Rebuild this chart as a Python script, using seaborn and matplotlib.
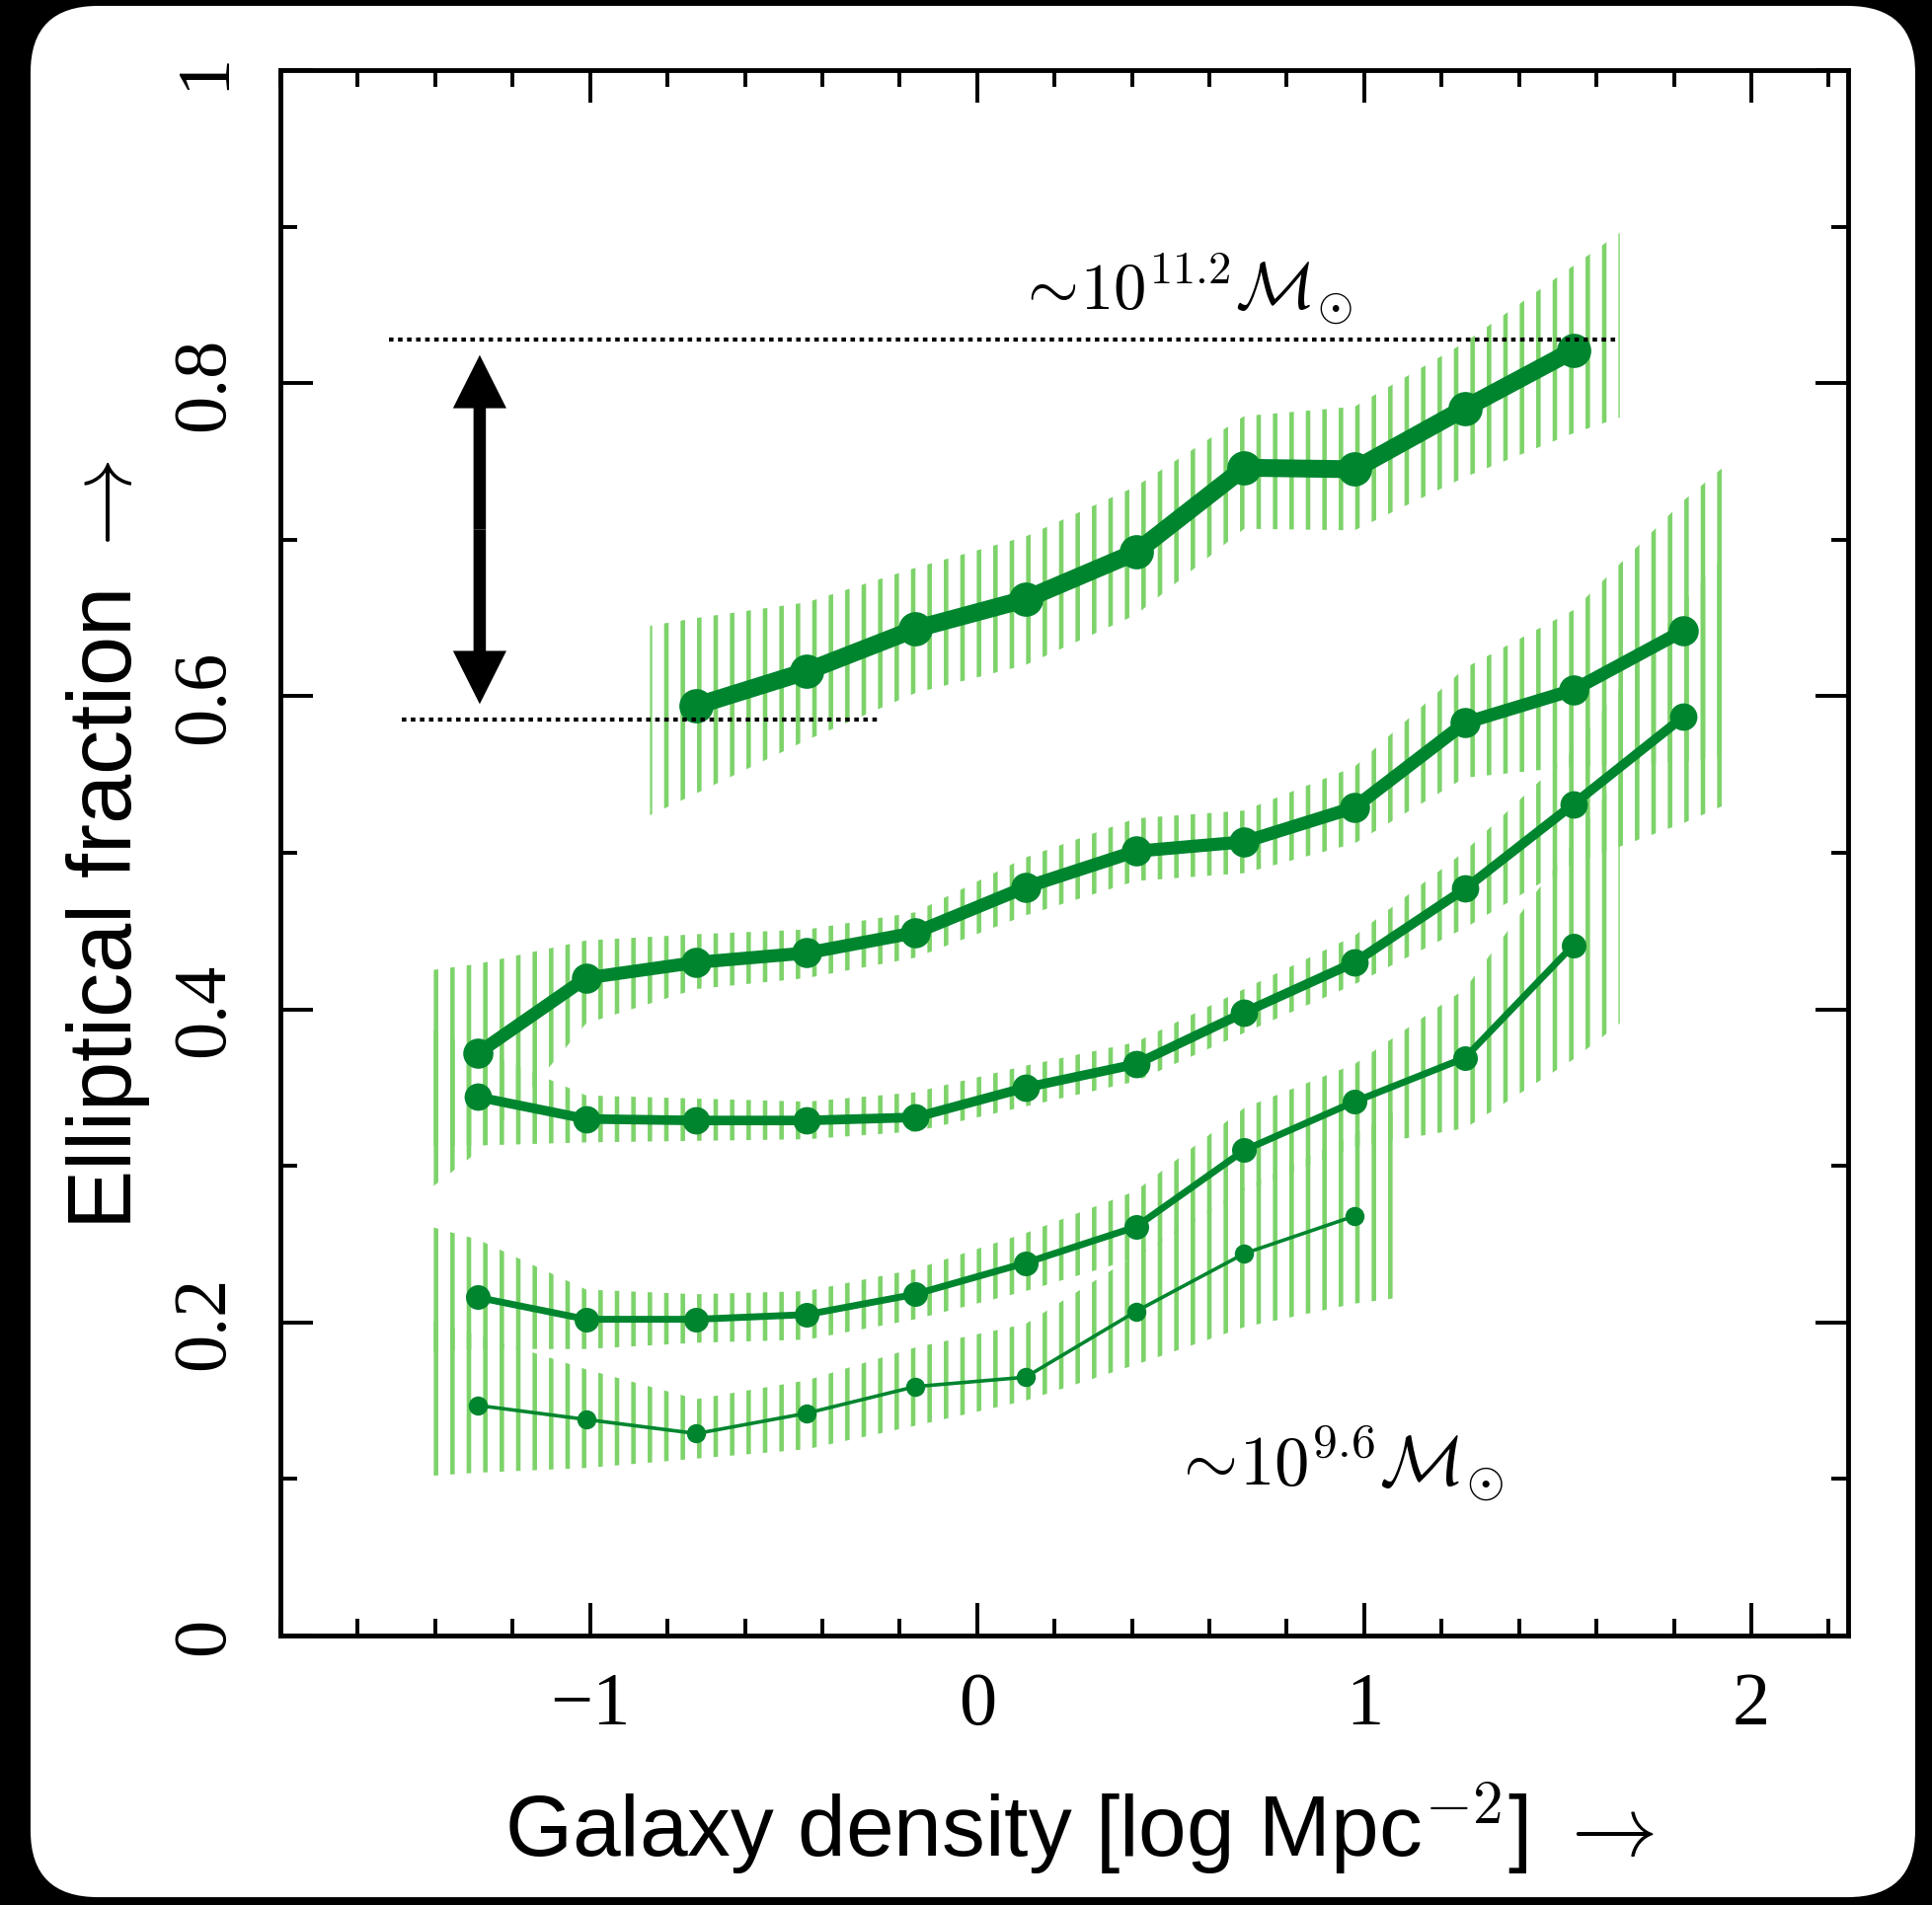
import numpy as np
import matplotlib
matplotlib.use("Agg")
import matplotlib.pyplot as plt
import seaborn as sns
from matplotlib.patches import FancyBboxPatch
from matplotlib.ticker import MultipleLocator

sns.set_style("ticks")
plt.rcParams["font.family"] = ["Liberation Sans", "DejaVu Sans"]
plt.rcParams["mathtext.fontset"] = "cm"
plt.rcParams["hatch.linewidth"] = 3.3
plt.rcParams["text.color"] = "black"
plt.rcParams["axes.labelcolor"] = "black"
plt.rcParams["xtick.color"] = "black"
plt.rcParams["ytick.color"] = "black"

# log galaxy density bins (Mpc^-2)
density = [-1.29, -1.01, -0.725, -0.44, -0.16, 0.125, 0.41, 0.69, 0.975, 1.26, 1.54, 1.825]

# elliptical fraction per stellar-mass bin, most massive first
frac_m1 = [0.594, 0.616, 0.643, 0.662, 0.692, 0.746, 0.745, 0.784, 0.821]
frac_m2 = [0.372, 0.420, 0.430, 0.436, 0.449, 0.478, 0.501, 0.507, 0.529, 0.583, 0.604, 0.642]
frac_m3 = [0.344, 0.330, 0.329, 0.329, 0.331, 0.350, 0.365, 0.398, 0.430, 0.477, 0.531, 0.587]
frac_m4 = [0.216, 0.202, 0.202, 0.205, 0.218, 0.238, 0.261, 0.310, 0.341, 0.369, 0.441]
frac_m5 = [0.147, 0.138, 0.129, 0.142, 0.159, 0.165, 0.207, 0.244, 0.268]

# error band edges: left end, each point, right end
hi_m1 = [0.645, 0.650, 0.660, 0.682, 0.702, 0.734, 0.779, 0.785, 0.826, 0.875, 0.896]
lo_m1 = [0.524, 0.538, 0.572, 0.602, 0.620, 0.652, 0.707, 0.706, 0.740, 0.768, 0.778]
hi_m2 = [0.425, 0.429, 0.444, 0.448, 0.451, 0.462, 0.497, 0.522, 0.527, 0.555, 0.618, 0.655, 0.725, 0.750]
lo_m2 = [0.286, 0.309, 0.391, 0.413, 0.420, 0.433, 0.460, 0.482, 0.487, 0.506, 0.548, 0.555, 0.558, 0.563]
hi_m3 = [0.387, 0.375, 0.345, 0.343, 0.341, 0.347, 0.364, 0.379, 0.413, 0.447, 0.501, 0.566, 0.660, 0.695]
lo_m3 = [0.313, 0.313, 0.315, 0.316, 0.317, 0.322, 0.338, 0.354, 0.385, 0.416, 0.452, 0.493, 0.519, 0.532]
hi_m4 = [0.261, 0.253, 0.221, 0.218, 0.220, 0.234, 0.257, 0.284, 0.337, 0.365, 0.413, 0.507, 0.550]
lo_m4 = [0.181, 0.183, 0.183, 0.187, 0.189, 0.202, 0.220, 0.241, 0.284, 0.312, 0.324, 0.368, 0.391]
hi_m5 = [0.201, 0.192, 0.170, 0.151, 0.163, 0.184, 0.199, 0.243, 0.286, 0.320, 0.337]
lo_m5 = [0.102, 0.104, 0.107, 0.113, 0.119, 0.134, 0.150, 0.173, 0.197, 0.212, 0.216]

start_idx = [2, 0, 0, 0, 0]
fracs = [frac_m1, frac_m2, frac_m3, frac_m4, frac_m5]
his = [hi_m1, hi_m2, hi_m3, hi_m4, hi_m5]
los = [lo_m1, lo_m2, lo_m3, lo_m4, lo_m5]

# the range arrow and its guide levels
arrow_x = -1.285
range_hi = 0.818
range_lo = 0.595
level_hi = 0.828
level_lo = 0.585

x_ticklabels = ["\u22121", "0", "1", "2"]
y_ticklabels = ["0", "0.2", "0.4", "0.6", "0.8", "1"]

dark = "#00852f"
light = "#7dd36a"
widths = [13, 9.5, 7, 5, 2.6]
msizes = [25, 22, 20, 18, 14]
band_pad = 0.12

fig = plt.figure(figsize=(19.57, 19.31), dpi=100, facecolor="black")
panel = FancyBboxPatch((0.0158, 0.0041), 0.9755, 0.9923,
                       boxstyle="round,pad=0,rounding_size=0.035",
                       transform=fig.transFigure, facecolor="white",
                       edgecolor="none", zorder=0)
fig.add_artist(panel)

ax = fig.add_axes([0.1451, 0.1414, 0.8115, 0.8213])
ax.set_facecolor("white")

for i in range(5):
    y = fracs[i]
    x = density[start_idx[i]:start_idx[i] + len(y)]
    bx = [x[0] - band_pad] + list(x) + [x[-1] + band_pad]
    ax.fill_between(bx, los[i], his[i], facecolor="none", edgecolor=light,
                    linewidth=0, hatch="|", zorder=1)

for i in range(5):
    y = fracs[i]
    x = density[start_idx[i]:start_idx[i] + len(y)]
    sns.lineplot(x=x, y=y, ax=ax, color=dark, linewidth=widths[i],
                 marker="o", markersize=msizes[i], markeredgewidth=0,
                 markeredgecolor=dark, sort=False, estimator=None, zorder=3)

# dotted guide levels
ax.plot([-1.52, 1.655], [level_hi, level_hi], color="black", lw=3,
        linestyle=(0, (1.1, 1.1)), zorder=4)
ax.plot([-1.485, -0.25], [level_lo, level_lo], color="black", lw=3,
        linestyle=(0, (1.1, 1.1)), zorder=4)

# double headed arrow
mid = (range_hi + range_lo) / 2
for end in (range_hi, range_lo):
    ax.arrow(arrow_x, mid, 0, end - mid, width=0.032, head_width=0.138,
             head_length=0.034, length_includes_head=True, color="black",
             lw=0, zorder=4)

ax.text(0.100, 0.848, r"$\sim\!10^{11.2}\mathcal{M}_{\odot}$", fontsize=48,
        ha="left", va="baseline", zorder=5)
ax.text(0.500, 0.0964, r"$\sim\!10^{9.6}\mathcal{M}_{\odot}$", fontsize=51,
        ha="left", va="baseline", zorder=5)

ax.set_xlim(-1.8, 2.25)
ax.set_ylim(0, 1)
ax.xaxis.set_major_locator(MultipleLocator(1))
ax.xaxis.set_minor_locator(MultipleLocator(0.2))
ax.yaxis.set_major_locator(MultipleLocator(0.2))
ax.yaxis.set_minor_locator(MultipleLocator(0.1))
ax.set_xticks([-1, 0, 1, 2])
ax.set_xticklabels(x_ticklabels, fontfamily="Liberation Serif", fontsize=55)
ax.set_yticks([0, 0.2, 0.4, 0.6, 0.8, 1.0])
ax.set_yticklabels(y_ticklabels, fontfamily="Liberation Serif", fontsize=55,
                   rotation=90, va="center")
ax.tick_params(which="both", direction="in", top=True, right=True,
               width=2.8, color="black", labelcolor="black")
ax.tick_params(which="major", length=24)
ax.tick_params(which="minor", length=12)
ax.tick_params(axis="x", pad=26)
ax.tick_params(axis="y", pad=30)
for s in ax.spines.values():
    s.set_linewidth(3.5)
    s.set_color("black")

fig.text(0.5588, 0.0259, "Galaxy density [log Mpc$^{\\mathsf{-2}}$] $\\rightarrow$",
         fontsize=63, ha="center", va="baseline")
fig.text(0.068, 0.557, "Elliptical fraction $\\rightarrow$", fontsize=65,
         rotation=90, rotation_mode="anchor", ha="center", va="baseline")

fig.savefig("out.png", dpi=100, facecolor=fig.get_facecolor())
